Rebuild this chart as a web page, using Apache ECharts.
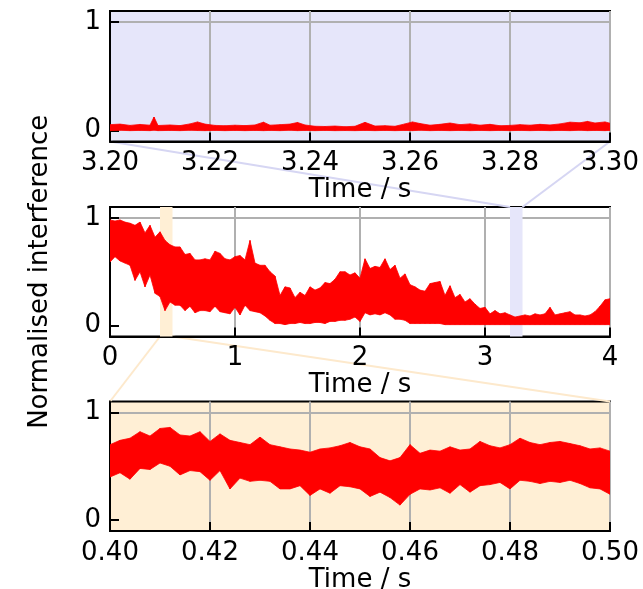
<!DOCTYPE html>
<html><head><meta charset="utf-8">
<script src="https://cdn.jsdelivr.net/npm/echarts@6/dist/echarts.min.js"></script>
<style>html,body{margin:0;padding:0;background:#fff}#c{width:643px;height:589px}</style>
</head><body><div id="c"></div>
<script>
// ---- Top panel: zoom 3.20-3.30 s (envelope of the noisy trace) ----
const topT  = [3.200,3.202,3.204,3.206,3.208,3.2088,3.2096,3.212,3.214,3.216,3.2175,3.219,3.221,3.223,3.225,3.227,3.229,3.2307,3.232,3.234,3.236,3.2375,3.239,3.241,3.243,3.245,3.247,3.249,3.251,3.253,3.255,3.257,3.259,3.2605,3.262,3.264,3.266,3.268,3.270,3.272,3.274,3.276,3.278,3.280,3.282,3.284,3.286,3.288,3.290,3.292,3.294,3.2955,3.297,3.299,3.300];
const topHi = [0.055,0.060,0.048,0.057,0.050,0.125,0.047,0.052,0.046,0.062,0.080,0.060,0.048,0.045,0.050,0.046,0.052,0.078,0.050,0.055,0.060,0.075,0.052,0.040,0.038,0.042,0.036,0.040,0.076,0.042,0.045,0.040,0.062,0.080,0.065,0.050,0.058,0.070,0.055,0.062,0.050,0.058,0.045,0.048,0.055,0.050,0.058,0.052,0.062,0.078,0.072,0.085,0.070,0.080,0.068];
const topLo = [0.000,0.003,0.000,0.002,0.000,0.004,0.000,0.002,0.000,0.003,0.001,0.000,0.002,0.000,0.002,0.000,0.002,0.000,0.002,0.000,0.003,0.000,0.002,0.000,0.002,0.000,0.001,0.000,0.002,0.000,0.002,0.000,0.002,0.000,0.003,0.000,0.002,0.000,0.002,0.000,0.002,0.000,0.002,0.000,0.002,0.000,0.002,0.000,0.002,0.000,0.003,0.000,0.002,0.000,0.002];

// ---- Middle panel: full record 0-4 s ----
const midT  = [0,0.04,0.08,0.12,0.16,0.2,0.24,0.28,0.32,0.36,0.4,0.44,0.48,0.52,0.56,0.6,0.64,0.68,0.72,0.76,0.8,0.84,0.88,0.92,0.96,1,1.04,1.08,1.12,1.16,1.2,1.24,1.28,1.32,1.36,1.4,1.44,1.48,1.52,1.56,1.6,1.64,1.68,1.72,1.76,1.8,1.84,1.88,1.92,1.96,2,2.04,2.08,2.12,2.16,2.2,2.24,2.28,2.32,2.36,2.4,2.44,2.48,2.52,2.56,2.6,2.64,2.68,2.72,2.76,2.8,2.84,2.88,2.92,2.96,3,3.04,3.08,3.12,3.16,3.2,3.24,3.28,3.32,3.36,3.4,3.44,3.48,3.52,3.56,3.6,3.64,3.68,3.72,3.76,3.8,3.84,3.88,3.92,3.96,4];
const midHi = [0.98,0.97,0.98,0.96,0.95,0.93,0.96,0.86,0.93,0.82,0.87,0.79,0.75,0.73,0.73,0.66,0.67,0.61,0.61,0.62,0.61,0.69,0.67,0.62,0.61,0.64,0.65,0.61,0.79,0.58,0.56,0.56,0.50,0.46,0.28,0.36,0.35,0.26,0.31,0.28,0.36,0.33,0.35,0.40,0.39,0.43,0.50,0.50,0.47,0.49,0.44,0.62,0.53,0.55,0.54,0.62,0.52,0.56,0.44,0.48,0.38,0.36,0.33,0.32,0.39,0.40,0.41,0.28,0.37,0.26,0.29,0.22,0.25,0.20,0.16,0.17,0.11,0.14,0.11,0.12,0.10,0.08,0.09,0.10,0.09,0.11,0.10,0.11,0.17,0.10,0.11,0.12,0.13,0.10,0.10,0.09,0.10,0.13,0.18,0.24,0.25];
const midLo = [0.59,0.64,0.60,0.58,0.56,0.42,0.50,0.36,0.47,0.30,0.27,0.14,0.22,0.19,0.19,0.14,0.18,0.12,0.14,0.14,0.13,0.18,0.13,0.12,0.11,0.17,0.10,0.19,0.14,0.13,0.12,0.09,0.05,0.02,0.02,0.01,0.02,0.02,0.03,0.02,0.02,0.03,0.03,0.02,0.04,0.04,0.05,0.05,0.06,0.08,0.04,0.12,0.10,0.11,0.10,0.12,0.10,0.06,0.06,0.05,0.02,0.02,0.02,0.02,0.02,0.02,0.02,0.01,0.01,0.01,0.01,0.01,0.01,0.01,0.01,0.01,0.01,0.01,0.01,0.01,0.01,0.01,0.01,0.01,0.01,0.01,0.01,0.01,0.01,0.01,0.01,0.01,0.01,0.01,0.01,0.01,0.01,0.01,0.01,0.01,0.01];

// ---- Bottom panel: zoom 0.40-0.50 s ----
const botT  = [0.400,0.402,0.404,0.406,0.408,0.410,0.412,0.414,0.416,0.418,0.420,0.422,0.424,0.426,0.428,0.430,0.432,0.434,0.436,0.438,0.440,0.442,0.444,0.446,0.448,0.450,0.452,0.454,0.456,0.458,0.460,0.462,0.464,0.466,0.468,0.470,0.472,0.474,0.476,0.478,0.480,0.482,0.484,0.486,0.488,0.490,0.492,0.494,0.496,0.498,0.500];
const botHi = [0.70,0.74,0.76,0.82,0.78,0.85,0.86,0.79,0.78,0.82,0.73,0.80,0.74,0.72,0.70,0.77,0.70,0.68,0.66,0.65,0.63,0.66,0.67,0.69,0.72,0.68,0.66,0.58,0.55,0.58,0.70,0.62,0.65,0.64,0.68,0.65,0.66,0.73,0.69,0.67,0.70,0.76,0.72,0.70,0.72,0.73,0.71,0.69,0.66,0.67,0.64];
const botLo = [0.40,0.44,0.38,0.48,0.47,0.53,0.50,0.42,0.46,0.45,0.37,0.46,0.29,0.39,0.36,0.37,0.36,0.29,0.29,0.32,0.23,0.29,0.25,0.32,0.31,0.29,0.22,0.26,0.21,0.14,0.24,0.29,0.28,0.30,0.25,0.33,0.26,0.32,0.33,0.35,0.29,0.37,0.36,0.34,0.36,0.35,0.37,0.34,0.30,0.29,0.24];

// ---- Axes / ranges ----
const topRange = [3.20, 3.30];
const midRange = [0, 4];
const botRange = [0.40, 0.50];
const yRange = [-0.1, 1.1];
const yTickValues = [0, 1];
const xLabel = 'Time / s';
const yLabel = 'Normalised interference';
const topColor = '#E6E6FA';
const botColor = '#FFEFD5';

const FONT = 'DejaVu Sans';
const FS = 26;

function xAxis(gi, range, interval, decimals) {
  return {
    type: 'value', gridIndex: gi, min: range[0], max: range[1], interval: interval,
    name: xLabel, nameLocation: 'middle', nameGap: 31,
    nameTextStyle: { fontSize: FS, fontFamily: FONT, color: '#000' },
    axisLine: { show: true, onZero: false, lineStyle: { color: '#000', width: 2 } },
    axisTick: { show: true, inside: true, length: 9, lineStyle: { color: '#000', width: 2 } },
    axisLabel: { fontSize: FS, fontFamily: FONT, color: '#000', margin: 9,
                 formatter: v => v.toFixed(decimals) },
    splitLine: { show: true, lineStyle: { color: '#b0b0b0', width: 2 } }
  };
}
const gridColors = ['transparent','#b0b0b0','transparent','transparent','transparent','transparent','transparent','transparent','transparent','transparent'];
function yAxis(gi, withName) {
  const a = {
    type: 'value', gridIndex: gi, min: yRange[0], max: yRange[1], interval: 0.1,
    axisLine: { show: true, onZero: false, lineStyle: { color: '#000', width: 2 } },
    axisTick: { show: true, inside: true, length: 9, customValues: yTickValues,
                lineStyle: { color: '#000', width: 2 } },
    axisLabel: { fontSize: FS, fontFamily: FONT, color: '#000', margin: 9, padding: [8, 0, 0, 0],
                 customValues: yTickValues, formatter: v => String(Math.round(v)) },
    splitLine: { show: true, lineStyle: { color: gridColors, width: 2 } }
  };
  if (withName) {
    a.name = yLabel; a.nameLocation = 'middle'; a.nameGap = 57;
    a.nameTextStyle = { fontSize: FS, fontFamily: FONT, color: '#000' };
  }
  return a;
}
// Filled envelope between lo and hi, drawn segment by segment through the axis scales
function band(gi, xs, hi, lo) {
  return {
    type: 'custom', xAxisIndex: gi, yAxisIndex: gi, z: 3, silent: true, clip: true,
    data: xs.map((x, i) => [x, lo[i], hi[i]]),
    encode: { x: 0, y: [1, 2] },
    renderItem: function (params, api) {
      const i = params.dataIndex;
      if (i >= xs.length - 1) return null;
      const pts = [
        api.coord([xs[i], hi[i]]), api.coord([xs[i + 1], hi[i + 1]]),
        api.coord([xs[i + 1], lo[i + 1]]), api.coord([xs[i], lo[i]])
      ];
      return { type: 'polygon', shape: { points: pts },
               style: { fill: '#ff0000', stroke: '#ff0000', lineWidth: 0.8 } };
    }
  };
}
const gridBase = { left: 110, right: 33, show: true, borderColor: '#000', borderWidth: 2, outerBoundsMode: 'none', containLabel: false };

const option = {
  animation: false,
  backgroundColor: '#fff',
  textStyle: { fontFamily: FONT },
  grid: [
    Object.assign({ top: 11, height: 130.5, backgroundColor: topColor }, gridBase),
    Object.assign({ top: 207, height: 129.5, backgroundColor: '#fff' }, gridBase),
    Object.assign({ top: 401.5, height: 129.5, backgroundColor: botColor }, gridBase)
  ],
  xAxis: [ xAxis(0, topRange, 0.02, 2), xAxis(1, midRange, 1, 0), xAxis(2, botRange, 0.02, 2) ],
  yAxis: [ yAxis(0, false), yAxis(1, true), yAxis(2, false) ],
  series: [
    { type: 'line', xAxisIndex: 1, yAxisIndex: 1, data: [], z: 1, silent: true,
      markArea: { silent: true, data: [
        [{ xAxis: botRange[0], itemStyle: { color: botColor } }, { xAxis: botRange[1] }],
        [{ xAxis: topRange[0], itemStyle: { color: topColor } }, { xAxis: topRange[1] }]
      ] } },
    band(0, topT, topHi, topLo),
    band(1, midT, midHi, midLo),
    band(2, botT, botHi, botLo)
  ]
};

const chart = echarts.init(document.getElementById('c'), null, { renderer: 'canvas' });
chart.setOption(option);

const px = (g, v) => chart.convertToPixel({ gridIndex: g }, v);
function conn(g1, v1, g2, v2, color) {
  const a = px(g1, v1), b = px(g2, v2);
  return { type: 'line', silent: true, z: 0,
           shape: { x1: a[0], y1: a[1], x2: b[0], y2: b[1] },
           style: { stroke: color, lineWidth: 2 } };
}
chart.setOption({ graphic: [
  conn(0, [topRange[0], yRange[0]], 1, [topRange[0], yRange[1]], '#d6d6f3'),
  conn(0, [topRange[1], yRange[0]], 1, [topRange[1], yRange[1]], '#d6d6f3'),
  conn(1, [botRange[0], yRange[0]], 2, [botRange[0], yRange[1]], '#fde9cc'),
  conn(1, [botRange[1], yRange[0]], 2, [botRange[1], yRange[1]], '#fde9cc')
] });
</script>
</body></html>
